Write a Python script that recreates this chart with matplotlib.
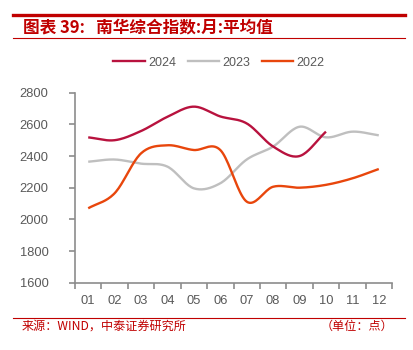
import numpy as np
import matplotlib
matplotlib.use("Agg")
import matplotlib.pyplot as plt
from matplotlib.lines import Line2D

plt.rcParams['font.family'] = ['Liberation Sans', 'Noto Sans CJK SC', 'DejaVu Sans']

months = ["01", "02", "03", "04", "05", "06", "07", "08", "09", "10", "11", "12"]
y2024 = [2518, 2500, 2558, 2648, 2712, 2650, 2606, 2460, 2400, 2554]
y2023 = [2364, 2378, 2352, 2333, 2196, 2228, 2378, 2460, 2585, 2518, 2554, 2531]
y2022 = [2070, 2165, 2417, 2468, 2438, 2438, 2112, 2206, 2200, 2218, 2259, 2318]
yticks = [1600, 1800, 2000, 2200, 2400, 2600, 2800]

c2024 = "#B8123E"
c2023 = "#BFBFBF"
c2022 = "#E8460C"
red = "#C00000"
gray = "#595959"


def smooth(y, n=20):
    y = np.asarray(y, float)
    x = np.arange(len(y), dtype=float)
    P = np.concatenate([[2 * y[0] - y[1]], y, [2 * y[-1] - y[-2]]])
    xs, ys = [], []
    for i in range(len(y) - 1):
        p0, p1, p2, p3 = P[i], P[i + 1], P[i + 2], P[i + 3]
        t = np.linspace(0, 1, n, endpoint=False)
        yy = 0.5 * ((2 * p1) + (-p0 + p2) * t + (2 * p0 - 5 * p1 + 4 * p2 - p3) * t ** 2
                    + (-p0 + 3 * p1 - 3 * p2 + p3) * t ** 3)
        xs.append(x[i] + t)
        ys.append(yy)
    xs.append([x[-1]])
    ys.append([y[-1]])
    return np.concatenate(xs), np.concatenate(ys)


fig = plt.figure(figsize=(4.13, 3.5), dpi=100)
ax = fig.add_axes([75 / 413, 1 - 282.7 / 350, (392 - 75) / 413, (282.7 - 92.7) / 350])

for ys, c in [(y2023, c2023), (y2022, c2022), (y2024, c2024)]:
    sx, sy = smooth(ys)
    ax.plot(sx, sy, color=c, lw=1.7, solid_capstyle='butt')

ax.set_xlim(-0.5, 11.5)
ax.set_ylim(1600, 2800)
ax.set_yticks(yticks)
ax.set_yticklabels([str(v) for v in yticks])
ax.set_xticks(range(len(months)))
ax.set_xticklabels(months)
ax.set_xticks(np.arange(-0.5, 12, 1), minor=True)
ax.tick_params(axis='x', which='major', length=0, pad=9, labelsize=9.3, colors=gray)
ax.tick_params(axis='x', which='minor', length=4, width=1.2, color="#8C8C8C", direction='out')
ax.tick_params(axis='y', length=4, width=1.2, color="#8C8C8C", labelsize=9.3, labelcolor=gray, pad=15)
for s in ['top', 'right']:
    ax.spines[s].set_visible(False)
for s in ['left', 'bottom']:
    ax.spines[s].set_color("#8C8C8C")
    ax.spines[s].set_linewidth(1.2)

handles = [Line2D([], [], color=c2024, lw=1.7), Line2D([], [], color=c2023, lw=1.7),
           Line2D([], [], color=c2022, lw=1.7)]
leg = fig.legend(handles, ["2024", "2023", "2022"], loc='center', bbox_to_anchor=(219 / 413, 1 - 62.5 / 350),
                 ncol=3, frameon=False, fontsize=9, handlelength=2.5, handletextpad=0.3, columnspacing=0.9)
for t in leg.get_texts():
    t.set_color(gray)

# header
fig.add_artist(Line2D([13 / 413, 405 / 413], [1 - 14.7 / 350] * 2, color=red, lw=2.4))
fig.add_artist(Line2D([13 / 413, 405 / 413], [1 - 38.3 / 350] * 2, color=red, lw=0.8))
fig.text(23 / 413, 1 - 27.5 / 350, "图表 39:   南华综合指数:月:平均值", color=red, fontsize=12,
         fontweight='bold', style='italic', va='center', ha='left',
         family=['Noto Sans CJK SC', 'DejaVu Sans'])

# footer
fig.add_artist(Line2D([13 / 413, 405 / 413], [1 - 317.7 / 350] * 2, color=red, lw=0.8))
fig.text(22 / 413, 1 - 326.5 / 350, "来源：WIND，中泰证券研究所", color=red, fontsize=8.7,
         va='center', ha='left', family=['Noto Sans CJK SC', 'DejaVu Sans'])
fig.text(393 / 413, 1 - 326.5 / 350, "（单位：点）", color=red, fontsize=8.7,
         va='center', ha='right', family=['Noto Sans CJK SC', 'DejaVu Sans'])

fig.savefig("out.png", dpi=100)
